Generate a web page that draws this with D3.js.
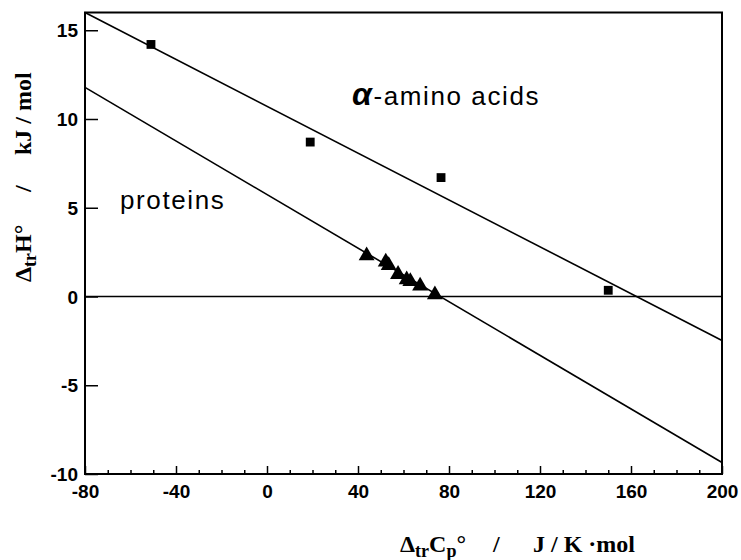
<!DOCTYPE html>
<html>
<head>
<meta charset="utf-8">
<script src="https://cdn.jsdelivr.net/npm/d3@7"></script>
<style>
  body { margin: 0; background: #fff; }
  svg { display: block; }
  .tick text { font-family: "Liberation Sans", Arial, sans-serif; font-weight: bold; font-size: 19px; fill: #000; }
  .lbl { font-family: "Liberation Sans", Arial, sans-serif; font-size: 26px; letter-spacing: 1.6px; fill: #000; }
  .ttl { font-family: "Liberation Serif", "Times New Roman", serif; font-weight: bold; font-size: 24px; fill: #000; white-space: pre; }
</style>
</head>
<body>
<svg id="chart" width="741" height="560"></svg>
<script>
// data
const aminoX = [-51, 19, 76.5, 150]
const aminoY = [14.2, 8.7, 6.7, 0.35]

const proteinX = [43.8, 52.2, 53.5, 57.6, 61.4, 63, 67.3, 73.8]
const proteinY = [2.3, 1.95, 1.75, 1.25, 0.95, 0.85, 0.6, 0.1]

// fitted lines, end points at the frame edges
const aminoLineX = [-80, 200]
const aminoLineY = [16.0, -2.48]
const proteinLineX = [-80, 200]
const proteinLineY = [11.78, -9.35]

const xTicks = [-80, -40, 0, 40, 80, 120, 160, 200]
const xMinorTicks = d3.range(-70, 200, 10)
const yTicks = [-10, -5, 0, 5, 10, 15]

const svg = d3.select('#chart')

const x = d3.scaleLinear().domain([-80, 200]).range([85, 722])
const y = d3.scaleLinear().domain([-10, 16]).range([474, 12.5])

// minor ticks on the x axis (inward)
svg.append('g').attr('class', 'minor')
    .attr('transform', `translate(0,${y(-10)})`)
    .call(d3.axisTop(x).tickValues(xMinorTicks.filter(d => d % 40 !== 0)).tickSize(4).tickFormat(''))

const xaxis = d3.axisTop(x).tickValues(xTicks).tickSize(8).tickFormat(d => String(d))
const yaxis = d3.axisRight(y).tickValues(yTicks).tickSize(13).tickFormat(d => String(d))

svg.append('g').attr('class', 'xaxis')
    .attr('transform', `translate(0,${y(-10)})`)
    .call(xaxis)
svg.append('g').attr('class', 'yaxis')
    .attr('transform', `translate(${x(-80)},0)`)
    .call(yaxis)

// labels outside the frame
svg.selectAll('.xaxis .tick text').attr('y', 24).attr('dy', 0)
svg.selectAll('.yaxis .tick text').attr('x', -7).attr('dy', '0.35em').attr('text-anchor', 'end')
svg.selectAll('.tick line').attr('stroke', '#000').attr('stroke-width', 1.5)
svg.selectAll('.domain').remove()

// frame
svg.append('rect')
    .attr('x', x(-80)).attr('y', y(16))
    .attr('width', x(200) - x(-80)).attr('height', y(-10) - y(16))
    .attr('fill', 'none').attr('stroke', '#000').attr('stroke-width', 2)

// zero line
svg.append('line')
    .attr('x1', x(-80)).attr('x2', x(200))
    .attr('y1', y(0)).attr('y2', y(0))
    .attr('stroke', '#000').attr('stroke-width', 1.5)

const line = d3.line().x(d => x(d[0])).y(d => y(d[1]))

svg.append('path')
    .attr('d', line(d3.zip(aminoLineX, aminoLineY)))
    .attr('fill', 'none').attr('stroke', '#000').attr('stroke-width', 1.6)
svg.append('path')
    .attr('d', line(d3.zip(proteinLineX, proteinLineY)))
    .attr('fill', 'none').attr('stroke', '#000').attr('stroke-width', 1.6)

// amino acids: squares
svg.append('g').selectAll('path').data(d3.zip(aminoX, aminoY))
    .enter().append('path')
    .attr('transform', d => `translate(${x(d[0])},${y(d[1])})`)
    .attr('d', d3.symbol(d3.symbolSquare, 78))
    .attr('fill', '#000')

// proteins: triangles
svg.append('g').selectAll('path').data(d3.zip(proteinX, proteinY))
    .enter().append('path')
    .attr('transform', d => `translate(${x(d[0])},${y(d[1])})`)
    .attr('d', d3.symbol(d3.symbolTriangle, 110))
    .attr('fill', '#000')

// curve labels
svg.append('text').attr('class', 'lbl').attr('x', 120).attr('y', 209).text('proteins')
const amino = svg.append('text').attr('class', 'lbl').attr('x', 352).attr('y', 105)
amino.append('tspan').attr('font-style', 'italic').attr('font-weight', 'bold').attr('font-size', 32).text('α')
amino.append('tspan').text('-amino acids')

// x axis title
const xt = svg.append('text').attr('class', 'ttl').attr('x', 400).attr('y', 552)
xt.append('tspan').text('Δ')
xt.append('tspan').attr('font-size', 18).attr('dy', 5).text('tr')
xt.append('tspan').attr('dy', -5).text('C')
xt.append('tspan').attr('font-size', 18).attr('dy', 5).text('p')
xt.append('tspan').attr('dy', -5).text('°')
svg.append('text').attr('class', 'ttl').attr('x', 493).attr('y', 552).text('/')
svg.append('text').attr('class', 'ttl').attr('x', 533).attr('y', 552).text('J / K ·mol')

// y axis title (rotated)
const yg = svg.append('g').attr('transform', 'translate(31,0) rotate(-90)')
const yt = yg.append('text').attr('class', 'ttl').attr('x', -282).attr('y', 0)
yt.append('tspan').text('Δ')
yt.append('tspan').attr('font-size', 18).attr('dy', 5).text('tr')
yt.append('tspan').attr('dy', -5).text('H°')
yg.append('text').attr('class', 'ttl').attr('x', -192).attr('y', 0).text('/')
yg.append('text').attr('class', 'ttl').attr('x', -155).attr('y', 0).text('kJ / mol')
</script>
</body>
</html>
